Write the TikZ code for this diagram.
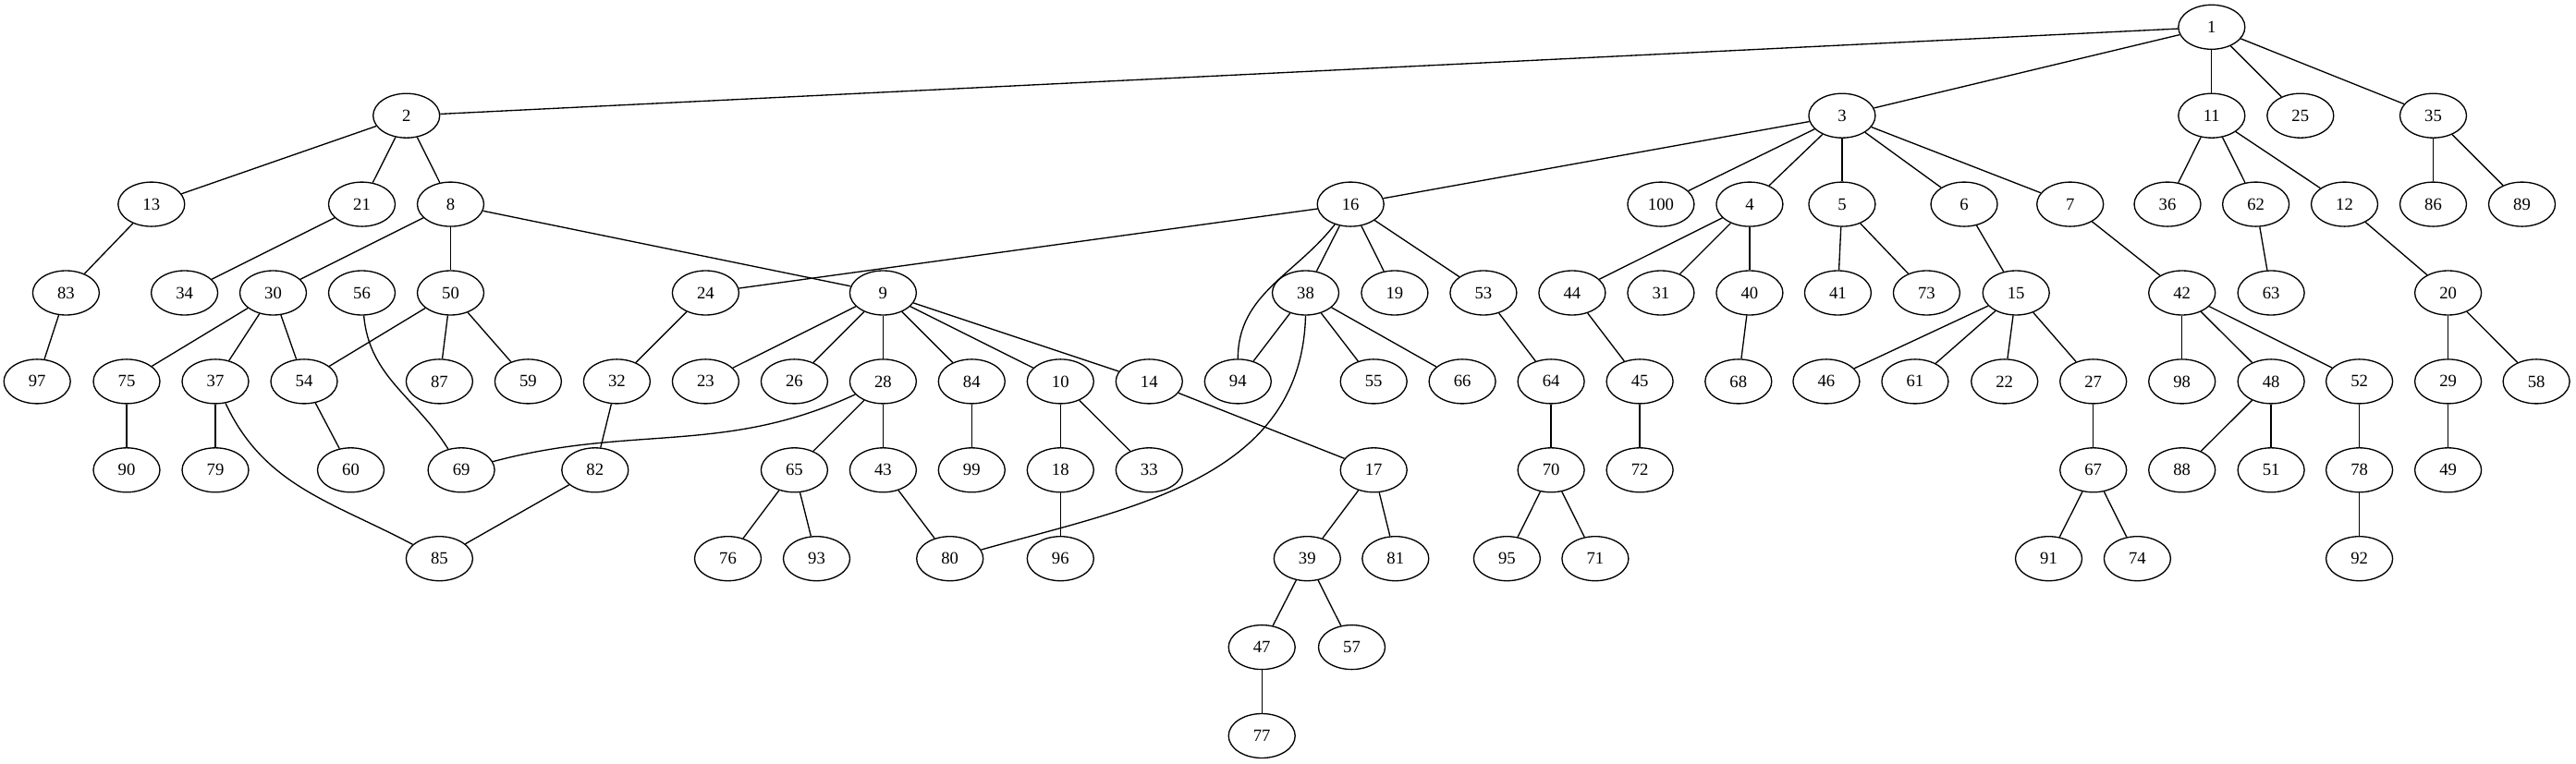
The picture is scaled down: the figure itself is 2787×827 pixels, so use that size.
\documentclass[tikz,border=0pt]{standalone}
\usepackage{fontspec}
\setmainfont{Liberation Serif}
\usetikzlibrary{shapes.geometric}
\begin{document}
\begin{tikzpicture}[x=0.75pt,y=-0.75pt,
  nd/.style={ellipse, draw, line width=1pt, minimum width=54pt, minimum height=36pt, inner sep=0pt, font=\fontsize{14}{16}\selectfont},
  ed/.style={line width=1pt}]
\useasboundingbox (0,0) rectangle (2787,827);
\def\ra{29.3}\def\rb{125.2}\def\rc{221.1}\def\rd{317.0}\def\re{412.9}\def\rf{508.8}\def\rg{604.7}\def\rh{700.6}\def\ri{796.5}
% row 1
\node[nd] (n1) at (2392.8,\ra) {1};
% row 2
\foreach \n/\x in {2/439.7,3/1992.9,11/2392.8,25/2488.8,35/2632.5}
  \node[nd] (n\n) at (\x,\rb) {\n};
% row 3
\foreach \n/\x in {13/163.8,21/391.5,8/487.5,16/1461.2,100/1796.9,4/1892.9,5/1992.9,6/2125,7/2239.7,36/2345,62/2440.6,12/2536.5,86/2632.5,89/2728.5}
  \node[nd] (n\n) at (\x,\rc) {\n};
% row 4
\foreach \n/\x in {83/71.4,34/199.6,30/295.5,56/391.5,50/487.5,24/763.4,9/955.4,38/1412.5,19/1508.9,53/1604.9,44/1700.9,31/1796.9,40/1892.9,41/1988.4,73/2084.4,15/2181.2,42/2360.7,63/2457.1,20/2648.6}
  \node[nd] (n\n) at (\x,\rd) {\n};
% row 5
\foreach \n/\x in {97/40.2,75/137,37/233,54/329,87/475.4,59/571.4,32/667.4,23/763.4,26/859.4,28/955.4,84/1051.3,10/1147.3,14/1243.3,94/1339.3,55/1486.2,66/1582.1,64/1678.1,45/1774.1,68/1880.8,46/1975.9,61/2071.9,22/2168.7,27/2264.7,98/2360.7,48/2457.1,52/2552.6,29/2648.6,58/2744.1}
  \node[nd] (n\n) at (\x,\re) {\n};
% row 6
\foreach \n/\x in {90/137,79/233,60/379.5,69/499.1,82/643.8,65/859.4,43/955.4,99/1051.3,18/1147.3,33/1243.3,17/1486.2,70/1678.1,72/1774.1,67/2264.7,88/2360.7,51/2457.1,78/2552.6,49/2648.6}
  \node[nd] (n\n) at (\x,\rf) {\n};
% row 7
\foreach \n/\x in {85/475.4,76/787.5,93/883.5,80/1027.7,96/1147.3,39/1414.3,81/1509.8,95/1630.4,71/1725.9,91/2216.5,74/2312.4,92/2552.6}
  \node[nd] (n\n) at (\x,\rg) {\n};
% row 8
\node[nd] (n47) at (1365.2,\rh) {47};
\node[nd] (n57) at (1462.5,\rh) {57};
% row 9
\node[nd] (n77) at (1365.2,\ri) {77};
% straight edges
\foreach \a/\b in {1/2,1/3,1/11,1/25,1/35,2/13,2/21,2/8,3/16,3/100,3/4,3/5,3/6,3/7,11/36,11/62,11/12,35/86,35/89,13/83,21/34,8/30,8/50,8/9,16/24,16/38,16/19,16/53,4/44,4/31,4/40,5/41,5/73,6/15,7/42,62/63,12/20,83/97,30/75,30/37,30/54,50/54,50/87,50/59,24/32,9/23,9/26,9/28,9/84,9/10,9/14,38/94,38/55,38/66,53/64,44/45,40/68,15/46,15/61,15/22,15/27,42/98,42/48,42/52,20/29,20/58,75/90,37/79,54/60,32/82,28/65,28/43,84/99,10/18,10/33,14/17,64/70,45/72,27/67,48/88,48/51,52/78,29/49,82/85,65/76,65/93,43/80,18/96,17/39,17/81,70/95,70/71,67/91,67/74,78/92,39/47,39/57,47/77}
  \draw[ed] (n\a) -- (n\b);
% curved edges
\draw[ed] (n16) to[out=-128,in=90] (n94);
\draw[ed] (n38.south) .. controls (1408,520) and (1220,550) .. (n80);
\draw[ed] (n56) to[out=-85,in=122] (n69);
\draw[ed] (n37) to[out=-65,in=152] (n85);
\draw[ed] (n28) to[out=-155,in=15] (n69);
\end{tikzpicture}
\end{document}
